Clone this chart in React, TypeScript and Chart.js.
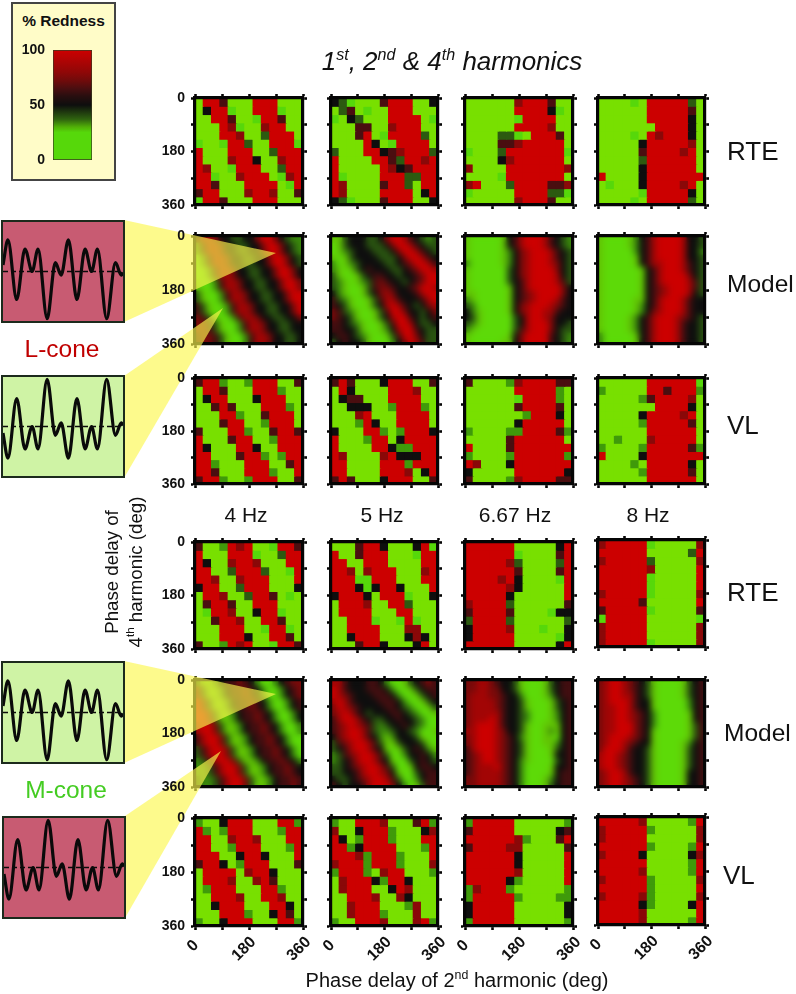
import React, { useEffect, useRef } from "react";
import { Chart, registerables } from "chart.js";

Chart.register(...registerables);

// ---------- measured % redness, one letter / digit per cell ----------
const rteA4 = ["grrdgggrrrggg","gkrrGggrrrGgg","ggrrdggGrrdgg","gggrcGggcrrgg","gggrrcggerrrg","GggGrreggrrrG","rgggrrrggerrr","rgggcrrkggcrr","rcggGrrrggerr","rrGggcrrrgGcr","rrdgggrrrrgGr","drrgggcrrcggd","Grrdgggrrrggg"];
const rteA5 = ["keGgggdrrrggk","gedgGggrrrggg","GgkegggrrrrgG","gggddggcrrrgg","gggdrgGrrrreg","ggggrkgGrrrrg","egggrrkdcrrre","rggggrrderrcr","rgggggrckdrrr","rGggggrrreerr","rcggggdrregrr","rcggggrrrrgkr","keGgggdrrrggk"];
const rteA667 = ["ggggggcrrrdgg","ggggggrrrrkGg","ggggggGrrrrgg","ggggggrrrrcgg","ggggeeGgrrrdg","ggggddcrrrrrg","GgggerrrrrrrG","ggggkcrrrrrrg","cggggrrrrrrrc","ggggGrrrrrrrg","crgggerrrrddc","GgggggrrrreeG","ggggggcrrrdgg"];
const rteA8 = ["ggggGgrrrrreg","ggggggrrrrrdg","ggggggrrrrrkg","gggggggrrrrkg","ggggGgrcrrrkg","gggggkrrrrrcg","gggggdrrrrcrg","gggggerrrrrrg","gggggkrrrrrrg","rggggkrrrrrrr","gGgggkrrrrcrg","gggggGrrrrrkg","ggggGgrrrrreg"];
const vlA4 = ["drrmggmrrrggd","grrdgggrrrmgg","gkrrgggkrrrgg","ggdrdgggrrrmg","gggrrmggdrrrg","gggdrrggmrrrg","dgggrrmggdrrd","rgggdrrggmrrr","rkgggrrkggrrr","rrgggdrrmgmrr","rrmgggrrrggdr","rrdgggrrrmggr","drrmggmrrrggd"];
const vlA5 = ["drdgggkrrrggd","grkggggrrrcgg","gkddgggrrrrgg","ggkkkggmrrrmg","gggcrgggrrrrg","gggmrkggrrrrg","kgggrrmgmrrrk","rgggmrrgkrrrr","rggggrrkmmrrr","rcggggcrkkkrr","rrggggrrrmrrr","rrggggrrrcgkr","drdgggkrrrggd"];
const vlA667 = ["dggggmcrrrrdd","ggggggrrrrrmg","ggggggGrrrrmg","ggggggdrrrrdg","gggggggmrrrkg","ggggggkrrrrrg","mggggmmrrrrdm","gggggdrrrrrrg","rggggdrrrrrrr","mggggmrrrrrrm","rcgggkrrrrrrr","kgggggrrrrrrk","dggggmcrrrrdd"];
const vlA8 = ["ggggggrrrrrrG","mgggggrrdrrrm","gggggmdrrrrcg","gggggggrrrrkg","gggggkrrrrcrg","gggggmrrrrrdg","ggggggrrrrrrg","ggmgggcrrrrrg","mggggmrrrrrdm","rggggkrrrrrrr","ggggmgrrrrrkg","gggggmrrrrrdg","ggggggrrrrrrg"];
const rteB4 = ["dggmrcrggGrrd","rgggrrrGggerr","rkggcrrcgggrr","rrggerrreggGr","rrcggcrrrgggr","krrggerrrgggk","grrcggerrdgGg","gdrrdggrrrggg","gGrrcggkrrGgg","ggdrrcggrrdgg","gggrrrggGrrGg","gggrrrkggrrdg","dggmrcrggGrrd"];
const rteB5 = ["gggdrrkgggkrG","rggdrrrgggGrr","rrggrrrggggrr","rrcgcrrrgggcr","rrrGGrrrgggrr","rrrkGkrrkgggr","krrrkgrrrGggk","grrrcggrreggg","grrrrgggrrggg","ggrrrGggGrGgg","ggrrrrgggccgg","ggkrrrgggkckg","gggdrrkgggkrg"];
const rteB667 = ["rrrrrrgggggkr","rrrrrrGggggdr","rrrrrcegggger","rrrrrrdggggdr","rrrrcrkggggGr","rrrrrckgggggr","rrrrrkggggggr","crrrreggggggd","drrrrdggggGkk","errrregggggge","krrrrcgggGggk","krrrrrgggggGk","rrrrrrgggggkr"];
const rteB8 = ["crrrrrGgggggc","rrrrrrggggger","crrrrregggggc","rrrrrrcgggggr","rrrrrrGgggggr","rrrrrrGgggggr","crrrrrGgggggc","rrrrrdggggggr","drrrrrGgggggd","GrrrrrggggggG","crrrrrggggggc","crrrrrggggggc","crrrrrGgggggc"];
const vlB4 = ["mggkrrrgggrrm","rmgmrrrgggmrr","rrggcrrcgggrr","rrggmrrrgggmr","rrrggkrrkgggr","drrkgmrrrgggd","grrrrgcrrkggg","grrrcggcrdggg","gmrrrgggrrmgg","ggrrrcggrrcgg","ggkrrrgggrrkg","gggrrrmggkrdg","mggkrrrgggrrm"];
const vlB5 = ["mggrrrcgggdrm","cggkrrrmgggkc","rkgmrrrmgggrr","rrmkrrrrgggmr","rrrcmrrrmgggr","crrrmrrrmgggc","mrrrmgcrrgggm","gcrrrkmrrkggg","gcrrrggkrcggg","ggrrrcggckggg","ggcrrrgggmcgg","ggcrrrmgggcgg","mggrrrcgggcrm"];
const vlB667 = ["mrrrrrggggggm","drrrrrgggggkd","rrrrrrcmgggdr","drrrrccgggggd","rrrrrrkgggggr","rrrrrrkgggggr","rrrrrrcgggggr","rrrrrkmgggggr","mcrrrmggggggm","mrrrrrmggggmm","krrrrrggggggk","krrrrrggggggk","mrrrrrggggggm"];
const vlB8 = ["rrrrrcgggggmr","crrrrrmgggggc","crrrrrggggggc","rrrrrrmggggmr","crrrrkgggggkc","rrrrrrgggggmr","rrrrrcgggggmr","crrrrrmgggggc","rrrrrrmgggggr","crrrrcmgggggc","rrrrrkmggggkr","rrrrrcggggggr","rrrrrcgggggmr"];

const modelA4 = ["577644334468864322","257764433446886432","257764433446886432","025776443344688643","025776443344688643","002577644334468864","002577644334468864","100257764433446886","100257764433446886","310025776443344688","310025776443344688","531002577644334468","531002577644334468","653100257764433446","665310025776443344","665310025776443344","566531002577644334","566531002577644334"];
const modelA5 = ["113444334688754323","013444333468875433","012344433346887543","101344443334688754","201234444334568875","210134544433456887","310013455443445688","321012356544345688","321001356654456887","421001346764445788","532100135775444578","543100134787543467","653210013588644346","654310013478854345","554321001358874334","554431001247885433","455432100135886433","345443100024687533"];
const modelA667 = ["100000145788875432","100000145788875432","100000124678887543","100000124678887543","200000124678887643","100000034678888643","100000034678888743","100000034578888753","100000014578888864","110000014567888864","210000014567888754","320000014678887654","421000014678877544","431000003478876444","321000003478886443","210000003578886433","100000014688885432","100000114688885432"];
const modelA8 = ["100001245788887443","100001245788887443","100000245788887442","100000145788887443","100000145778887543","100000014578887543","100000014578888643","100000014578888753","100000014567888753","100000014567888743","100000114578887544","100000124578887544","100000124678887544","100001245788876543","100001245788875443","100001245788875443","200000145788875443","200000145788875443"];
const modelB4 = ["311245565420024566","631124556542002456","631124556542002456","863112455654200245","863112455654200245","886311245565420024","886311245565420024","788631124556542002","788631124556542002","578863112455654200","578863112455654200","357886311245565420","357886311245565420","235788631124556542","223578863112455654","223578863112455654","322357886311245565","322357886311245565"];
const modelB5 = ["775444554200134565","875444555420013455","876544455542001345","787544445554200134","687654444554320013","678754344455432001","578875433445443200","567876532344543200","567887532234432001","467887542124443100","356788753113444310","345788754101345421","235678875300244542","234578875410034543","334567887530014554","334457887641003455","433456788753002455","543445788864201355"];
const modelB667 = ["667765443100013455","667766443100013455","677766544200012455","677776544310001345","677776544310001345","677777544320001245","677787544320001245","678887544310011145","778887644310012145","678887654210011045","678887654310011245","578887654310001345","567887654310001445","567887654210000345","567778654200001445","567777654200001455","667777654200012455","667777654200013455"];
const modelB8 = ["678876543100001345","678876543100001345","678877543100001345","678887544100000245","677887544100000245","677887654200000145","677887654200000145","677888654200000135","677888654100000135","678887654100000135","678876544100001245","688875443100001345","788765443100001345","788765443100001345","788765443100001345","678875443100001445","678876543100001445","678876543100001445"];

// letters (RTE, VL panels) and digits (Model panels) -> % redness
const letterRedness: Record<string, number> = { G: 0, g: 5, m: 18, e: 32, k: 50, d: 64, c: 78, r: 100 };
const digitRedness = [1, 10, 22, 34, 50, 62, 74, 86, 100];

// two-period cone-contrast waveforms
const waveTime = [0, 4.1, 11.4, 18.3, 24.3, 29.2, 36.8, 43.6, 48.5, 54.5, 61.6, 68.4, 73.8, 78.7, 86.4, 93.7, 98.6, 100];
const waveA = [0.2, 0.97, -0.86, 0.69, 0, 0.69, -1.45, 0.27, -0.11, 0.97, -0.86, 0.69, 0, 0.69, -1.45, 0.27, -0.11, -0.03];
const waveB = [-0.2, -0.97, 0.86, -0.69, 0, -0.69, 1.45, -0.27, 0.11, -0.97, 0.86, -0.69, 0, -0.69, 1.45, -0.27, 0.11, 0.03];

const phaseTicks = [0, 180, 360];
const barTicks = [0, 50, 100];

// ---------- colour scale ----------
const stops: [number, number[]][] = [
  [0, [86, 216, 10]], [5, [120, 224, 0]], [18, [63, 154, 10]], [32, [44, 90, 16]],
  [50, [14, 14, 14]], [64, [74, 14, 16]], [78, [138, 8, 8]], [100, [204, 0, 0]],
];
function colorFor(v: number): string {
  for (let i = 1; i < stops.length; i++) {
    if (v <= stops[i][0]) {
      const [a, ca] = stops[i - 1];
      const [b, cb] = stops[i];
      const t = (v - a) / (b - a);
      const c = ca.map((x, k) => Math.round(x + (cb[k] - x) * t));
      return `rgb(${c[0]},${c[1]},${c[2]})`;
    }
  }
  return "rgb(204,0,0)";
}
const cellValue = (ch: string) => (ch >= "0" && ch <= "8" ? digitRedness[+ch] : letterRedness[ch]);

// ---------- layout ----------
const L = 42, T = 8, R = 8, B = 44;
const FONT = "'Liberation Sans', Arial, sans-serif";
const rowTops = [98, 236, 378, 542, 680, 818];
const rowH = [107, 108, 106, 107, 107, 108];
const colLefts = [195, 331, 465, 598];
const colW = [108, 107, 108, 107];
const colShift = [[0, 0, 0, 0], [0, 0, 0, 0], [0, 0, 0, 0], [0, 0, 0, -2], [0, 0, 0, 0], [0, 0, 0, -1]];
// rotated x labels: offset of each label's centre from its tick
const xLabelDx = [-2, -5, -4];
const xLabelDy = [20, 23, 23];

const panels = [
  [rteA4, rteA5, rteA667, rteA8], [modelA4, modelA5, modelA667, modelA8], [vlA4, vlA5, vlA667, vlA8],
  [rteB4, rteB5, rteB667, rteB8], [modelB4, modelB5, modelB667, modelB8], [vlB4, vlB5, vlB667, vlB8],
];

function ChartCanvas({ left, top, width, height, make }: any) {
  const ref = useRef<HTMLCanvasElement>(null);
  useEffect(() => {
    const chart = new Chart(ref.current as HTMLCanvasElement, make());
    return () => chart.destroy();
  }, []);
  return <canvas ref={ref} width={width} height={height} style={{ position: "absolute", left, top, width, height }} />;
}

const zeroPad = (s: any) => { s.paddingLeft = s.paddingRight = s.paddingTop = s.paddingBottom = 0; };
const tickFont = { family: "'Liberation Sans', Arial, sans-serif", size: 14, weight: "bold" as const };
const phaseLabel = (v: any) => (phaseTicks.includes(Number(v)) ? String(v) : "");

const blurPlugin = {
  id: "modelSmooth",
  afterDatasetsDraw(chart: any) {
    const { ctx, canvas, chartArea: a, currentDevicePixelRatio: dpr } = chart;
    ctx.save();
    ctx.beginPath();
    ctx.rect(a.left, a.top, a.right - a.left, a.bottom - a.top);
    ctx.clip();
    ctx.filter = "blur(3.2px)";
    ctx.drawImage(canvas, a.left * dpr, a.top * dpr, (a.right - a.left) * dpr, (a.bottom - a.top) * dpr, a.left, a.top, a.right - a.left, a.bottom - a.top);
    ctx.restore();
  },
};

const xLabelPlugin = {
  id: "rotatedPhaseLabels",
  afterDraw(chart: any) {
    const { ctx, chartArea: a } = chart;
    const scale = chart.scales.xB;
    phaseTicks.forEach((v, i) => {
      ctx.save();
      ctx.translate(scale.getPixelForValue(v) + xLabelDx[i], a.bottom + xLabelDy[i]);
      ctx.rotate(-Math.PI / 4);
      ctx.font = `bold 16px ${FONT}`;
      ctx.fillStyle = "#111";
      ctx.textAlign = "center";
      ctx.textBaseline = "middle";
      ctx.fillText(String(v), 0, 0);
      ctx.restore();
    });
  },
};

function panelConfig(rows: string[], opts: { yLabels: boolean; xLabels: boolean; smooth: boolean; hideYLabels: boolean }) {
  const n = rows.length;
  const axis = (position: string, size: number, showLabels: boolean, extra: any = {}) => ({
    type: "linear",
    position,
    min: 0,
    max: 360,
    offset: false,
    border: { display: true, width: 3.2, color: "#050505", z: 2 },
    grid: { offset: false, drawOnChartArea: false, drawTicks: true, tickLength: 4, tickWidth: 2.6, tickColor: "#050505", z: 2 },
    ticks: { z: 2, stepSize: 90, autoSkip: false, display: showLabels, font: tickFont, color: "#111", padding: 6, callback: phaseLabel, ...(extra.ticks || {}) },
    afterFit: (s: any) => {
      if (position === "left" || position === "right") s.width = size; else s.height = size;
      zeroPad(s);
    },
    ...(extra.top || {}),
  });
  return {
    type: "bar",
    data: {
      labels: rows[0].split("").map((_, i) => String(i)),
      datasets: rows.map((row) => ({
        data: row.split("").map(() => 360 / n),
        backgroundColor: row.split("").map((ch) => colorFor(cellValue(ch))),
        borderWidth: 0,
        inflateAmount: 0.6,
        barPercentage: 1,
        categoryPercentage: 1,
        xAxisID: "x",
        yAxisID: "y",
      })),
    },
    options: {
      responsive: false,
      animation: false,
      events: [],
      layout: { padding: 0 },
      plugins: { legend: { display: false }, tooltip: { enabled: false } },
      scales: {
        x: { type: "category", display: false, stacked: true },
        y: axis("left", L, opts.yLabels, {
          top: { reverse: true, stacked: true },
          ticks: opts.hideYLabels ? { color: "rgba(0,0,0,0)" } : {},
        }),
        yR: axis("right", R, false, { top: { axis: "y" } }),
        xT: axis("top", T, false, { top: { axis: "x" } }),
        xB: axis("bottom", B, false, { top: { axis: "x" } }),
      },
    },
    plugins: [...(opts.smooth ? [blurPlugin] : []), ...(opts.xLabels ? [xLabelPlugin] : [])],
  };
}

function labelOnlyConfig() {
  return {
    type: "bar",
    data: { labels: ["a"], datasets: [] },
    options: {
      responsive: false,
      animation: false,
      events: [],
      layout: { padding: { top: T, bottom: B, right: R } },
      plugins: { legend: { display: false }, tooltip: { enabled: false } },
      scales: {
        x: { display: false },
        y: {
          type: "linear",
          min: 0,
          max: 360,
          reverse: true,
          border: { display: false },
          grid: { display: true, drawOnChartArea: false, drawTicks: true, tickLength: 4, tickColor: "rgba(0,0,0,0)" },
          ticks: { stepSize: 90, autoSkip: false, font: tickFont, color: "#111", padding: 6, callback: phaseLabel },
          afterFit: (s: any) => { s.width = L; zeroPad(s); },
        },
      },
    },
  };
}

function waveConfig(values: number[]) {
  return {
    type: "line",
    data: {
      datasets: [
        {
          data: waveTime.map((x, i) => ({ x, y: values[i] })),
          borderColor: "#0a0a0a",
          borderWidth: 3.2,
          pointRadius: 0,
          cubicInterpolationMode: "monotone",
        },
        {
          data: [{ x: 0, y: 0 }, { x: 100, y: 0 }],
          borderColor: "#0a0a0a",
          borderWidth: 1.5,
          borderDash: [5, 3],
          pointRadius: 0,
        },
      ],
    },
    options: {
      responsive: false,
      animation: false,
      events: [],
      layout: { padding: 0 },
      plugins: { legend: { display: false }, tooltip: { enabled: false } },
      scales: {
        x: { type: "linear", display: false, min: 0, max: 100 },
        y: { type: "linear", display: false, min: -1.52, max: 1.52 },
      },
    },
  };
}

// redness level -> level of the panel colour scale used by the colour bar
const barLevels = [0, 20, 25, 30, 37, 50, 58, 65, 72, 80, 90, 100];
const barShown = [0, 0, 0, 14, 30, 50, 56, 64, 72, 80, 90, 100];

function colorBarConfig() {
  return {
    type: "bar",
    data: {
      labels: ["Redness"],
      datasets: [
        {
          data: [[0, 100]],
          barPercentage: 1,
          categoryPercentage: 1,
          borderWidth: 1,
          borderSkipped: false,
          borderColor: "#3a3a20",
          backgroundColor: (c: any) => {
            const { chart } = c;
            const a = chart.chartArea;
            if (!a) return "#000";
            const g = chart.ctx.createLinearGradient(0, a.bottom, 0, a.top);
            barLevels.forEach((v, i) => g.addColorStop(v / 100, colorFor(barShown[i])));
            return g;
          },
        },
      ],
    },
    options: {
      responsive: false,
      animation: false,
      events: [],
      layout: { padding: { top: 10, bottom: 10, right: 4 } },
      plugins: { legend: { display: false }, tooltip: { enabled: false } },
      scales: {
        x: { display: false },
        y: {
          min: 0,
          max: 100,
          border: { display: false },
          grid: { display: false, drawTicks: false },
          ticks: {
            stepSize: 50,
            padding: 8,
            font: tickFont,
            color: "#111",
            callback: (v: any) => (barTicks.includes(Number(v)) ? String(v) : ""),
          },
          afterFit: (s: any) => { s.width = 42; zeroPad(s); },
        },
      },
    },
  };
}

function Label({ x, y, size, children, color = "#111", anchor = "left", style = {} }: any) {
  const tx = anchor === "center" ? "-50%" : "0";
  return (
    <div
      style={{
        position: "absolute", left: x, top: y, transform: `translate(${tx},-50%)`, fontFamily: FONT,
        fontSize: size, color, whiteSpace: "nowrap", lineHeight: 1, ...style,
      }}
    >
      {children}
    </div>
  );
}

function WaveBox({ x, y, w, h, bg, values }: any) {
  return (
    <div style={{ position: "absolute", left: x, top: y, width: w, height: h, background: bg, border: "2px solid #1c2a1c", boxSizing: "border-box" }}>
      <ChartCanvas left={0} top={0} width={w - 4} height={h - 4} make={() => waveConfig(values)} />
    </div>
  );
}

const YELLOW = "rgba(252,248,78,0.65)";
const triangles = [
  "124,220 276,253 124,322",
  "124,376 223,308 124,478",
  "124,661 276,694 124,763",
  "125,816 221,751 125,918",
];

function panelEl(r: number, c: number, smoothLayer: boolean) {
  const x = colLefts[c] + 0;
  const y = rowTops[r] + colShift[r][c];
  const w = colW[c];
  const h = rowH[r];
  const isModel = r === 1 || r === 4;
  if (isModel !== smoothLayer) return null;
  return (
    <ChartCanvas
      key={`${r}-${c}`}
      left={x - L}
      top={y - T}
      width={w + L + R}
      height={h + T + B}
      make={() =>
        panelConfig(panels[r][c], {
          yLabels: c === 0,
          xLabels: r === 5,
          smooth: isModel,
          hideYLabels: isModel,
        })
      }
    />
  );
}

const supStyle = { fontSize: "0.62em", lineHeight: 0 };

export default function App() {
  const idx = [0, 1, 2, 3, 4, 5];
  const cols = [0, 1, 2, 3];
  return (
    <div style={{ position: "absolute", left: 0, top: 0, width: 796, height: 994, overflow: "hidden", background: "#fff" }}>
      {idx.map((r) => cols.map((c) => panelEl(r, c, true)))}
      <svg width={796} height={994} style={{ position: "absolute", left: 0, top: 0 }}>
        {triangles.map((p) => <polygon key={p} points={p} fill={YELLOW} />)}
      </svg>
      {idx.map((r) => cols.map((c) => panelEl(r, c, false)))}
      {[1, 4].map((r) => (
        <ChartCanvas key={`g${r}`} left={colLefts[0] - L} top={rowTops[r] - T} width={colW[0] + L + R} height={rowH[r] + T + B} make={labelOnlyConfig} />
      ))}

      <div style={{ position: "absolute", left: 11, top: 2, width: 105, height: 179, background: "#fffcc8", border: "2px solid #444", boxSizing: "border-box" }} />
      <ChartCanvas left={11} top={40} width={85} height={130} make={colorBarConfig} />
      <Label x={63.5} y={21} size={15.5} anchor="center" style={{ fontWeight: "bold" }}>% Redness</Label>

      <WaveBox x={1} y={220} w={124} h={103} bg="#c85b72" values={waveA} />
      <WaveBox x={1} y={375} w={124} h={103} bg="#cff3a5" values={waveB} />
      <WaveBox x={1} y={661} w={124} h={103} bg="#cff3a5" values={waveA} />
      <WaveBox x={2} y={816} w={124} h={103} bg="#c85b72" values={waveB} />
      <Label x={62} y={349} size={24.5} anchor="center" color="#c00000">L-cone</Label>
      <Label x={66} y={790} size={24.5} anchor="center" color="#44cc22">M-cone</Label>

      <Label x={452} y={61} size={26} anchor="center" style={{ fontStyle: "italic" }}>
        1<sup style={supStyle}>st</sup>, 2<sup style={supStyle}>nd</sup> &amp; 4<sup style={supStyle}>th</sup> harmonics
      </Label>

      <Label x={727} y={151} size={26}>RTE</Label>
      <Label x={727} y={284} size={24.5}>Model</Label>
      <Label x={727} y={425} size={26}>VL</Label>
      <Label x={727} y={592} size={26}>RTE</Label>
      <Label x={724} y={733} size={24.5}>Model</Label>
      <Label x={723} y={875} size={26}>VL</Label>

      <Label x={246} y={514} size={21} anchor="center">4 Hz</Label>
      <Label x={382} y={514} size={21} anchor="center">5 Hz</Label>
      <Label x={515} y={514} size={21} anchor="center">6.67 Hz</Label>
      <Label x={648} y={514} size={21} anchor="center">8 Hz</Label>

      <Label x={457} y={980} size={20} anchor="center">
        Phase delay of 2<sup style={supStyle}>nd</sup> harmonic (deg)
      </Label>
      <Label x={112} y={572} size={18.7} anchor="center" style={{ transform: "translate(-50%,-50%) rotate(-90deg)" }}>Phase delay of</Label>
      <Label x={136} y={572} size={18.7} anchor="center" style={{ transform: "translate(-50%,-50%) rotate(-90deg)" }}>
        4<sup style={supStyle}>th</sup> harmonic (deg)
      </Label>
    </div>
  );
}
